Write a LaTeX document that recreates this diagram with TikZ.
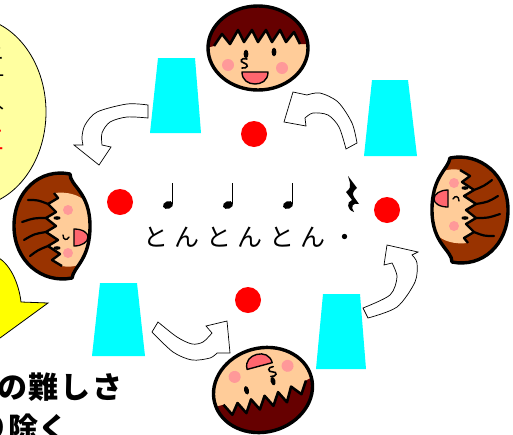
\documentclass[tikz,border=0pt]{standalone}
\usepackage{fontspec}
\newfontfamily\jp{Noto Sans CJK JP}
\definecolor{skintone}{RGB}{255,204,153}
\definecolor{boyhair}{RGB}{102,0,0}
\definecolor{girlhair}{RGB}{153,51,0}
\definecolor{cheek}{RGB}{255,153,153}
\definecolor{mouthred}{RGB}{255,102,110}
\definecolor{cupcyan}{RGB}{0,255,255}
\definecolor{dotred}{RGB}{255,0,0}
\definecolor{bubble}{RGB}{255,255,160}
\definecolor{pointer}{RGB}{255,255,0}
\tikzset{
  outline/.style={draw=black, line width=3.4pt, line join=round},
  cup/.style={fill=cupcyan},
  beat/.style={circle, fill=dotred, inner sep=0pt, minimum size=26pt},
  turn/.style={fill=white, draw=black, line width=0.7pt, line join=miter},
  boy/.pic={
    \begin{scope}
      \path[clip] (0,0) ellipse [x radius=50, y radius=42];
      \fill[skintone] (-60,-60) rectangle (60,60);
      \fill[boyhair] (-60,-60) -- (-60,2) -- (-44,-2) -- (-36,-14) -- (-28,-4) -- (-20,-18) -- (-14,-6)
        -- (-6,-18) -- (0,-6) -- (8,-18) -- (14,-6) -- (22,-18) -- (28,-6) -- (36,-16) -- (42,-4)
        -- (60,-4) -- (60,-60) -- cycle;
      \draw[line width=2.6pt, line join=round] (-44,-2) -- (-36,-14) -- (-28,-4) -- (-20,-18) -- (-14,-6)
        -- (-6,-18) -- (0,-6) -- (8,-18) -- (14,-6) -- (22,-18) -- (28,-6) -- (36,-16) -- (42,-4);
    \end{scope}
    \draw[outline] (0,0) ellipse [x radius=50, y radius=42];
    \fill (-12,6) ellipse [x radius=2.4, y radius=4.3];
    \fill (16,4) ellipse [x radius=2.4, y radius=4.3];
    \fill[cheek] (-30,17) circle [radius=6];
    \fill[cheek] (24,20) circle [radius=6];
    \draw[line width=1.6pt, line cap=round] (-11,11) .. controls (-17,9) and (-19,14) .. (-14,15)
      .. controls (-9,16) and (-10,21) .. (-16,20);
    \filldraw[fill=mouthred, draw=black, line width=1.4pt, line join=round] (-16,24) -- (10,24)
      .. controls (10,33) and (3,36) .. (-3,36) .. controls (-10,36) and (-16,32) .. cycle;
  },
  girl/.pic={
    \begin{scope}
      \path[clip] (-52,20) .. controls (-58,-10) and (-35,-38) .. (0,-38)
        .. controls (35,-38) and (58,-12) .. (52,18)
        .. controls (40,18) and (34,38) .. (0,38)
        .. controls (-34,38) and (-40,22) .. (-52,20) -- cycle;
      \fill[girlhair] (-60,-60) rectangle (60,60);
      \fill[skintone] (-40,10) -- (-34,0) -- (-28,8) -- (-20,-4) -- (-14,6) -- (-6,-6) -- (0,4)
        -- (8,-6) -- (14,4) -- (22,-4) -- (28,6) -- (33,2)
        .. controls (36,30) and (20,44) .. (-4,44) .. controls (-30,44) and (-44,30) .. (-40,10) -- cycle;
      \draw[line width=2.4pt, line join=round] (-40,10) -- (-34,0) -- (-28,8) -- (-20,-4) -- (-14,6)
        -- (-6,-6) -- (0,4) -- (8,-6) -- (14,4) -- (22,-4) -- (28,6) -- (33,2);
      \draw[line width=2.2pt, line cap=round] (-20,-4) .. controls (-24,-14) .. (-30,-22)
        (-6,-6) .. controls (-8,-18) .. (-14,-28) (8,-6) .. controls (8,-18) .. (4,-30)
        (22,-4) .. controls (26,-14) .. (26,-24);
    \end{scope}
    \draw[outline] (-52,20) .. controls (-58,-10) and (-35,-38) .. (0,-38)
      .. controls (35,-38) and (58,-12) .. (52,18)
      .. controls (40,18) and (34,38) .. (0,38)
      .. controls (-34,38) and (-40,22) .. (-52,20) -- cycle;
    \fill (8,5) ellipse [x radius=1.8, y radius=3.6];
    \fill (-22,5) ellipse [x radius=1.8, y radius=3.6];
    \fill[cheek] (16,16) circle [radius=5];
    \fill[cheek] (-27,16) circle [radius=5];
    \draw[line width=1.4pt, line cap=round] (-9,11) .. controls (-14,11) and (-15,15) .. (-11,17);
    \filldraw[fill=mouthred, draw=black, line width=1.3pt, line join=round] (-20,22) -- (-3,22)
      .. controls (-3,31) and (-7,36) .. (-11,36) .. controls (-16,36) and (-20,30) .. cycle;
  },
  crotchet/.pic={
    \fill[rotate=20] (0,0) ellipse [x radius=5.2, y radius=3.8];
    \draw[line width=1.5pt] (4.4,-1) -- (4.4,-22);
  }
}
\begin{document}
\begin{tikzpicture}[x=1pt, y=-1pt]
  \useasboundingbox (0,0) rectangle (513,434);

  % speech bubble on the left with its vertical text
  \filldraw[fill=bubble, draw=black, line width=0.8pt] (-30,112) ellipse [x radius=76, y radius=95];
  \begin{scope}[font=\jp\fontsize{20}{20}\selectfont, inner sep=0pt, anchor=east]
    \node (b1) at (5,54) {ニ};
    \node (b2) at (5,79) {一};
    \node (b3) at (5,101) {入};
    \node[text=dotred, font=\jp\fontsize{26}{26}\selectfont] (b4) at (5,140) {三};
  \end{scope}

  % yellow pointer
  \filldraw[fill=pointer, draw=black, line width=0.8pt] (-5,256) .. controls (10,262) and (19,284) .. (21,302)
    -- (48,303) -- (0,338) -- (-5,340) -- cycle;

  % caption at the bottom left
  \node[anchor=west, inner sep=0pt, font=\jp\bfseries\fontsize{30}{30}\selectfont\addfontfeature{LetterSpace=6}] (cap1) at (-3,387) {の難しさ};
  \node[anchor=west, inner sep=0pt, font=\jp\bfseries\fontsize{30}{30}\selectfont] (cap2) at (-22,428) {り除く};

  % cups
  \fill[cup] (158,58) -- (195,58) -- (201,133) -- (150,133) -- cycle;
  \fill[cup] (372,80) -- (408,80) -- (417,156) -- (364,156) -- cycle;
  \fill[cup] (100,283) -- (137,283) -- (145,356) -- (92,356) -- cycle;
  \fill[cup] (323,294) -- (360,294) -- (366,369) -- (316,369) -- cycle;

  % beat dots
  \node[beat] (dtop) at (254,134) {};
  \node[beat] (dleft) at (120,202) {};
  \node[beat] (dright) at (387,210) {};
  \node[beat] (dbottom) at (248,300) {};

  % curved turn arrows
  \filldraw[turn] plot[smooth] coordinates {(148,105) (127,104) (97,112) (85,125) (82,137) (83,145)}
    -- (74,145) -- (99,165) -- (111,147) -- (102,145)
    -- plot[smooth] coordinates {(102,145) (102,133) (110,122) (127,117) (148,118)} -- cycle;
  \filldraw[turn] plot[smooth] coordinates {(357,143) (352,123) (338,102) (320,93) (307,95)}
    -- (293,92) -- (284,122) -- (306,126) -- (305,118)
    -- plot[smooth] coordinates {(305,118) (313,113) (328,115) (339,127) (346,149)} -- cycle;
  \filldraw[turn] plot[smooth] coordinates {(152,332) (173,352) (192,360) (210,358) (217,353)}
    -- (230,353) -- (227,321) -- (206,326) -- (212,333)
    -- plot[smooth] coordinates {(212,333) (203,342) (192,344) (177,337) (158,322)} -- cycle;
  \filldraw[turn] plot[smooth] coordinates {(368,318) (397,307) (415,282) (417,263) (412,255)}
    -- (418,252) -- (387,245) -- (384,265) -- (392,263)
    -- plot[smooth] coordinates {(392,263) (397,277) (390,295) (363,308)} -- cycle;

  % rhythm: three crotchets and a crotchet rest
  \pic (n1) at (168,205) {crotchet};
  \pic (n2) at (228,205) {crotchet};
  \pic (n3) at (288,205) {crotchet};
  \fill (348,176) -- (357,188) .. controls (353,191) and (352,194) .. (354,197) -- (359,204)
    .. controls (353,202) and (350,207) .. (354,212) .. controls (347,210) and (346,202) .. (352,200)
    -- (346,192) .. controls (350,189) and (351,186) .. (350,183) -- cycle;
  \node[font=\jp\fontsize{25}{25}\selectfont\addfontfeature{LetterSpace=26}, inner sep=0pt] (chant) at (250,237) {とんとんとん・};

  % players
  \pic (ptop) at (258,48) {boy};
  \pic[rotate=195] (pbottom) at (263,390) {boy};
  \pic[rotate=90] (pleft) at (52,226) {girl};
  \pic[rotate=-90] (pright) at (470,210) {girl};
\end{tikzpicture}
\end{document}
